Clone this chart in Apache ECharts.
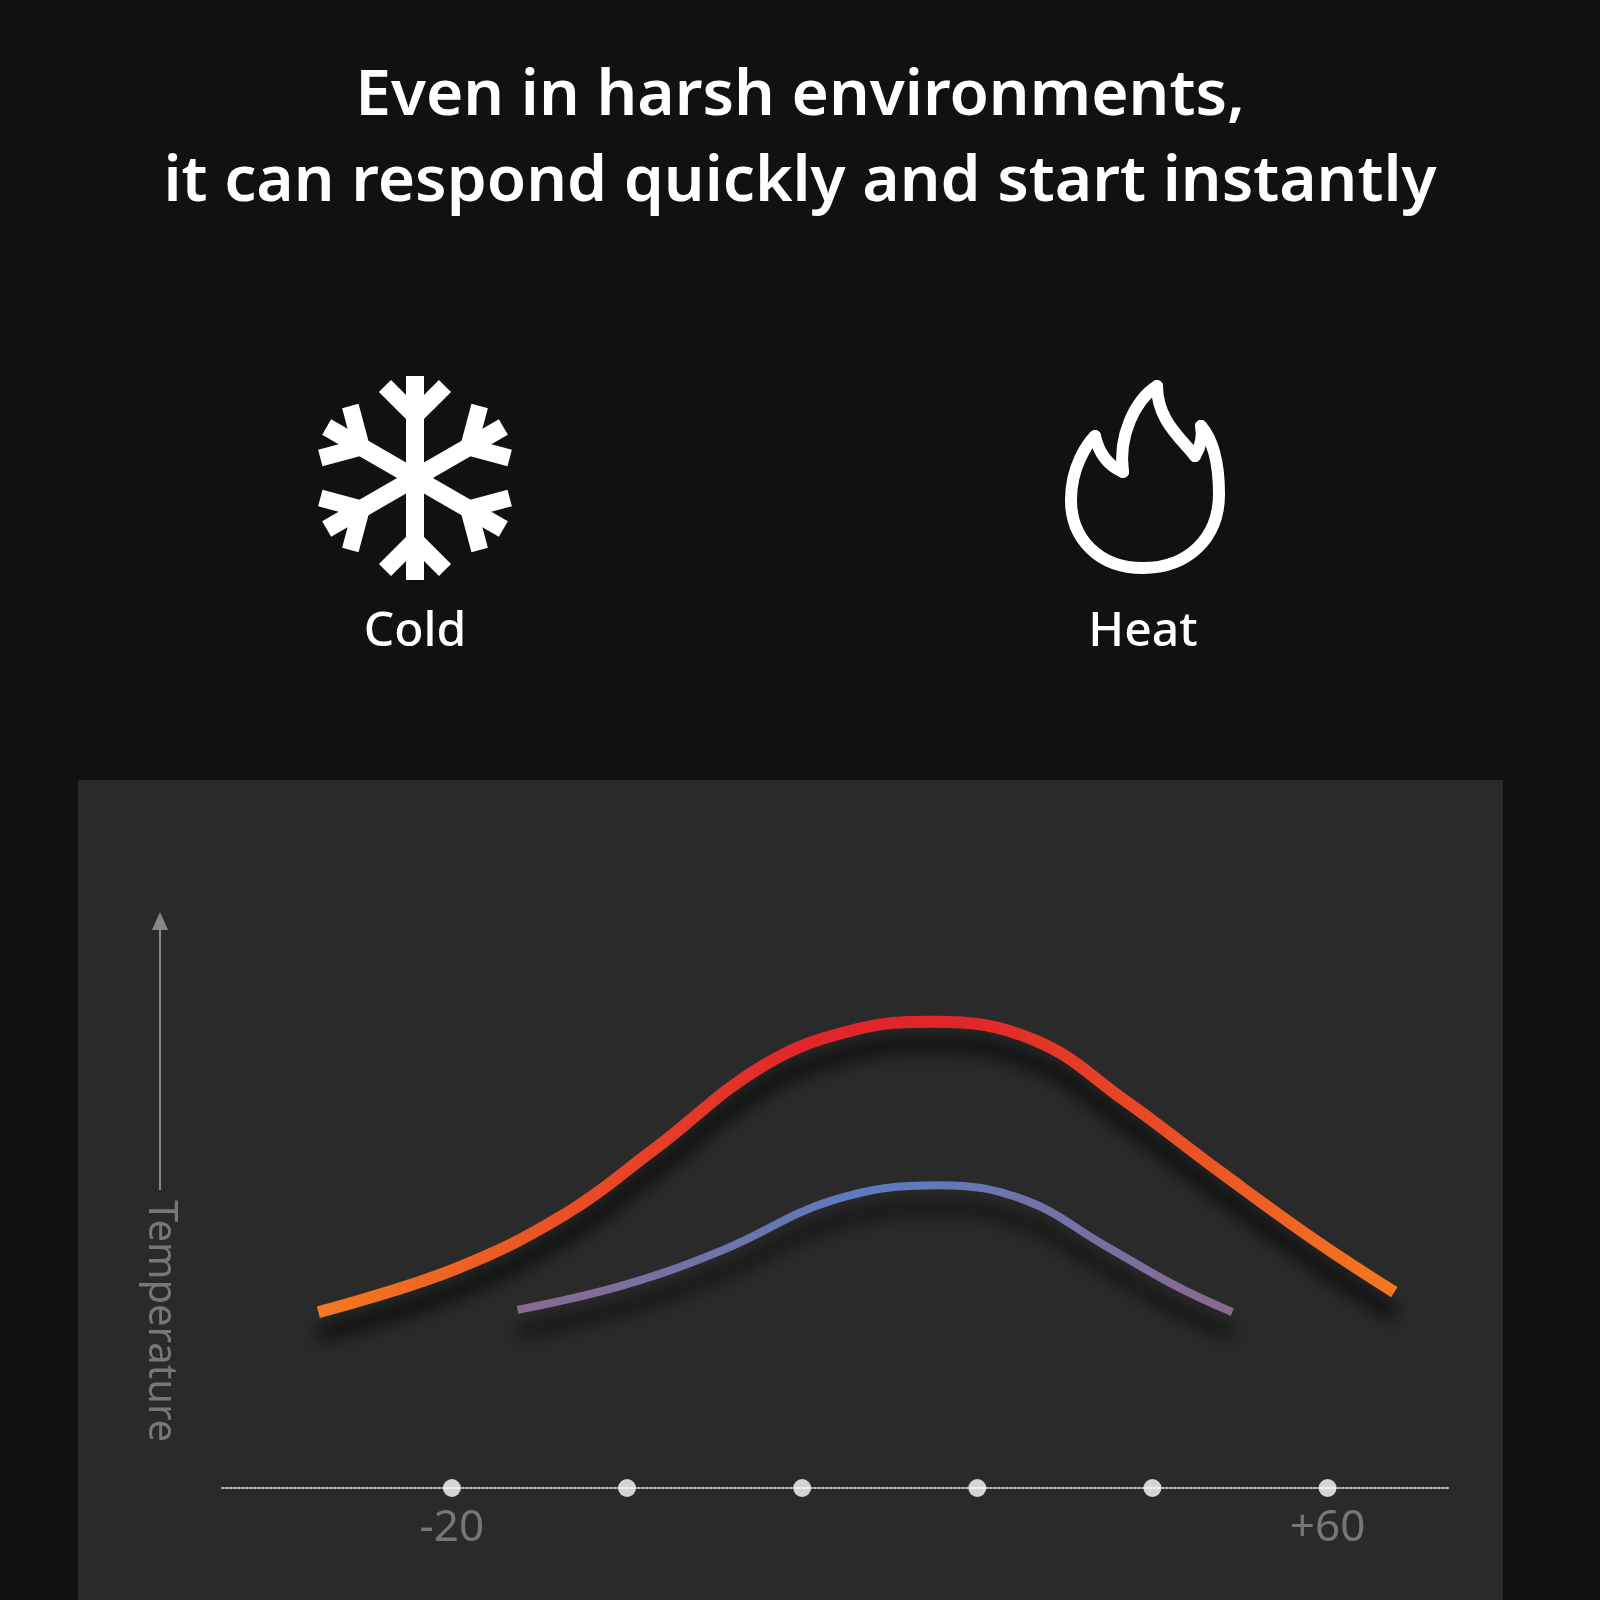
<!DOCTYPE html>
<html>
<head>
<meta charset="utf-8">
<script src="https://cdn.jsdelivr.net/npm/echarts@6/dist/echarts.min.js"></script>
<style>html,body{margin:0;background:#111}#c{width:1600px;height:1600px}</style>
</head>
<body>
<div id="c"></div>
<script>
const titleLines = ['Even in harsh environments,', 'it can respond quickly and start instantly'];
const iconLabels = ['Cold', 'Heat'];
const tickValues = [-20, -4, 12, 28, 44, 60];
const tickLabels = { '-20': '-20', '60': '+60' };
const heatX = [-32.2, -19.9, -9.8, -1.6, 8.5, 16.7, 24.0, 33.2, 41.4, 50.6, 58.8, 66.1];
const heatY = [29.9, 37.1, 46.4, 57.5, 71.9, 77.9, 79.3, 76.2, 66.0, 53.2, 42.2, 33.3];
const coldX = [-14.0, -4.3, 4.8, 14.9, 24.5, 32.3, 39.6, 46.0, 51.3];
const coldY = [30.3, 34.5, 40.5, 49.0, 51.5, 49.0, 41.3, 34.5, 29.9];

const font = '"Noto Sans", "Open Sans", sans-serif';
const chart = echarts.init(document.getElementById('c'));

// snowflake arms
const arms = [];
for (let i = 0; i < 6; i++) {
  arms.push({
    type: 'group', rotation: i * Math.PI / 3,
    children: [
      { type: 'rect', shape: { x: -9, y: -102, width: 18, height: 102 }, style: { fill: '#fff' } },
      { type: 'polyline', shape: { points: [[-30, -92], [0, -62], [30, -92]] }, style: { stroke: '#fff', lineWidth: 17, fill: null } }
    ]
  });
}

// flame outline as bezier segments
const flameSegs = [
  [0, 90, -45, 90, -72, 60, -72, 22],
  [-72, 22, -72, -12, -55, -35, -48, -42],
  [-48, -42, -44, -24, -34, -12, -20, -6],
  [-20, -6, -25, -42, -8, -78, 14, -92],
  [14, -92, 14, -58, 38, -40, 52, -22],
  [52, -22, 58, -32, 60, -42, 58, -52],
  [58, -52, 70, -38, 76, -14, 76, 16],
  [76, 16, 76, 60, 45, 90, 0, 90]
];
const flame = flameSegs.map(s => ({
  type: 'bezierCurve',
  shape: { x1: s[0], y1: s[1], cpx1: s[2], cpy1: s[3], cpx2: s[4], cpy2: s[5], x2: s[6], y2: s[7] },
  style: { stroke: '#fff', lineWidth: 12, fill: null, lineCap: 'round' }
}));

const lineStyle = (colors, w) => ({
  width: w,
  color: new echarts.graphic.LinearGradient(0, 0, 1, 0, colors),
  shadowColor: 'rgba(0,0,0,0.9)', shadowBlur: 18, shadowOffsetY: 22
});

chart.setOption({
  backgroundColor: '#111',
  animation: false,
  graphic: [
    { type: 'rect', z: -10, shape: { x: 78, y: 780, width: 1425, height: 820 }, style: { fill: '#2a2a2a' } },
    { type: 'text', x: 800, y: 97, style: { text: titleLines[0], fill: '#fff', font: '600 64px ' + font, align: 'center', verticalAlign: 'middle' } },
    { type: 'text', x: 800, y: 183, style: { text: titleLines[1], fill: '#fff', font: '600 64px ' + font, align: 'center', verticalAlign: 'middle' } },
    { type: 'group', x: 415, y: 478, children: arms },
    { type: 'text', x: 415, y: 632, style: { text: iconLabels[0], fill: '#fff', font: '500 48px ' + font, align: 'center', verticalAlign: 'middle' } },
    { type: 'group', x: 1143, y: 478, children: flame },
    { type: 'text', x: 1143, y: 632, style: { text: iconLabels[1], fill: '#fff', font: '500 48px ' + font, align: 'center', verticalAlign: 'middle' } },
    { type: 'line', shape: { x1: 160, y1: 925, x2: 160, y2: 1190 }, style: { stroke: '#888', lineWidth: 2 } },
    { type: 'polygon', shape: { points: [[152, 930], [168, 930], [160, 912]] }, style: { fill: '#888' } },
    { type: 'text', x: 160, y: 1200, rotation: -Math.PI / 2, style: { text: 'Temperature', fill: '#777', font: '40px ' + font, align: 'left', verticalAlign: 'middle' } }
  ],
  grid: { left: 222, right: 152, top: 900, bottom: 112 },
  xAxis: {
    type: 'value', min: -41, max: 71,
    splitLine: { show: false }, axisTick: { show: false },
    axisLine: { lineStyle: { color: '#bbb', type: 'dotted', width: 2 } },
    axisLabel: { customValues: [-20, 60], formatter: v => tickLabels[v] || '', color: '#777', fontSize: 44, fontFamily: font, margin: 18 }
  },
  yAxis: { type: 'value', min: 0, max: 100, show: false },
  series: [
    { type: 'line', smooth: 0.4, showSymbol: false, data: heatX.map((x, i) => [x, heatY[i]]),
      lineStyle: lineStyle([{ offset: 0, color: '#f47a20' }, { offset: 0.45, color: '#e0262a' }, { offset: 0.6, color: '#e0262a' }, { offset: 1, color: '#f47a20' }], 12) },
    { type: 'line', smooth: 0.4, showSymbol: false, data: coldX.map((x, i) => [x, coldY[i]]),
      lineStyle: lineStyle([{ offset: 0, color: '#8a6a8e' }, { offset: 0.5, color: '#5a7cc0' }, { offset: 1, color: '#8a6a8e' }], 8) },
    { type: 'scatter', symbolSize: 18, clip: false, data: tickValues.map(v => [v, 0]), itemStyle: { color: '#fff' }, z: 5 }
  ]
});
</script>
</body>
</html>
